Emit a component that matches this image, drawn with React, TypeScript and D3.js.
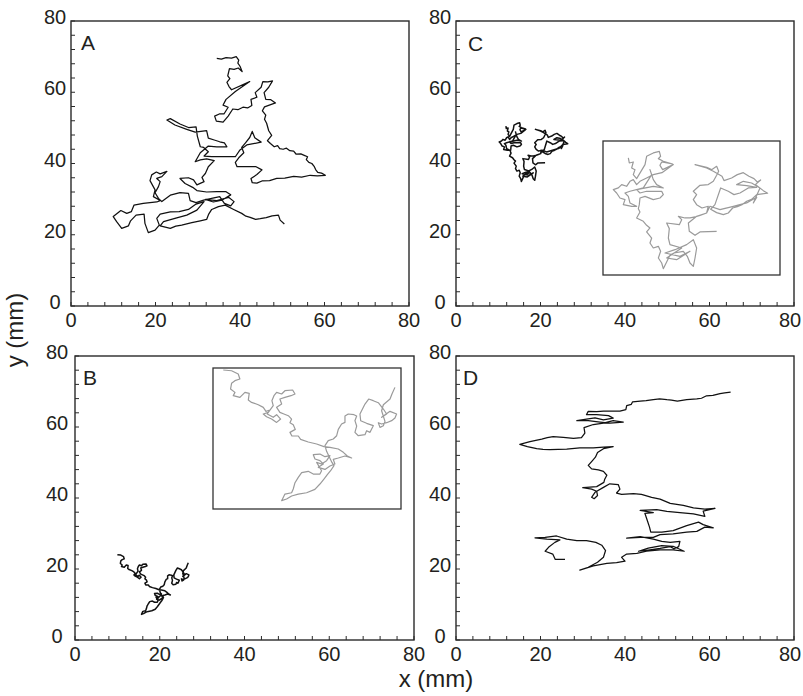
import React from "react";
import * as d3 from "d3";

type Pt = [number, number];

const axisTicks: number[] = [0, 20, 40, 60, 80];
const panelLetters: string[] = ["A", "B", "C", "D"];
const xAxisTitle = "x (mm)";
const yAxisTitle = "y (mm)";

// Panel A trajectory (mm)
const trajA: Pt[] = [
  [34.5, 69.5], [35.6, 69.3], [36.7, 69.7], [38.0, 69.6], [39.1, 70.0], [39.7, 69.0], [39.5, 68.2], [40.0, 67.3], [40.5, 65.8], [39.6, 66.8], [38.6, 66.4], [37.5, 66.6],
  [37.1, 64.6], [37.6, 63.8], [36.9, 62.8], [37.4, 61.6], [38.0, 60.7], [42.3, 63.0], [38.9, 60.2], [36.7, 58.0], [36.0, 56.4], [37.2, 55.8],
  [36.2, 53.9], [35.1, 53.9], [34.0, 53.3], [34.4, 51.9], [36.0, 51.6], [37.2, 53.3], [38.3, 55.3], [39.5, 55.1], [40.7, 55.8], [41.8, 55.6], [42.8, 56.3],
  [42.6, 58.0], [44.0, 58.6], [43.6, 59.9], [45.0, 61.4], [45.4, 63.0], [46.6, 62.9], [47.7, 63.2], [46.8, 61.4], [45.7, 59.9],
  [46.1, 58.0], [47.3, 57.9], [48.4, 57.0], [45.8, 55.9], [45.3, 54.8], [46.1, 53.6], [45.8, 52.4], [46.3, 51.3], [46.8, 49.2], [47.5, 47.9],
  [46.5, 46.4], [47.2, 45.6], [48.1, 44.7], [48.9, 45.0], [49.4, 44.2], [50.2, 44.0], [51.0, 44.3], [51.8, 43.6], [52.7, 43.5], [53.3, 42.6],
  [54.4, 42.7], [55.2, 42.3], [56.0, 41.9], [55.7, 41.1], [56.3, 40.3], [57.0, 40.0], [57.6, 39.1], [57.9, 38.3], [58.4, 37.5], [59.3, 37.3],
  [60.2, 36.7], [58.3, 36.5], [56.6, 36.7], [54.6, 36.2], [52.7, 36.4], [50.6, 35.9], [48.7, 35.8], [47.0, 35.2], [45.2, 35.1], [44.0, 34.5],
  [42.9, 34.6], [42.6, 35.8],
  [44.0, 36.9], [45.2, 38.2], [43.8, 39.1], [41.5, 39.1], [39.3, 39.1], [38.9, 40.3], [39.7, 41.6], [40.9, 43.0],
  [40.4, 44.5], [41.3, 45.8], [42.3, 47.3], [42.9, 49.0], [43.5, 47.2], [45.0, 46.0], [41.6, 45.2], [40.0, 43.8],
  [38.9, 41.9], [36.1, 41.9], [33.3, 41.9], [31.5, 42.1], [32.5, 43.3], [31.4, 44.5], [30.6, 44.7], [29.9, 47.7],
  [29.6, 50.3], [27.8, 50.1], [25.8, 51.1], [23.5, 52.6], [22.7, 52.2], [24.6, 50.8], [27.4, 49.6], [29.4, 48.8],
  [32.1, 49.2], [32.5, 47.1], [33.9, 46.6], [35.2, 46.1], [36.3, 45.8], [36.9, 44.7], [34.5, 44.7], [32.5, 44.9],
  [30.6, 43.0], [29.4, 40.5], [30.6, 41.0], [32.1, 41.3], [33.9, 40.8], [32.5, 39.1], [31.8, 37.2], [31.0, 36.1],
  [31.5, 34.9], [29.8, 34.0], [29.0, 35.4], [27.8, 36.0], [25.8, 35.8], [27.0, 34.4], [28.8, 33.3], [29.8, 32.4],
  [32.1, 32.0], [34.5, 32.1], [36.7, 32.1], [37.8, 31.2], [35.7, 29.7], [33.7, 29.2], [31.8, 29.9], [34.5, 29.6],
  [37.3, 30.5], [38.6, 29.3], [37.8, 28.1], [36.3, 28.8], [35.2, 30.7], [33.3, 30.2], [31.4, 29.7], [29.6, 29.0],
  [28.2, 29.6], [27.8, 31.6], [25.8, 31.8], [23.5, 31.1], [21.5, 29.3], [20.7, 30.2], [19.9, 31.8], [20.7, 33.5],
  [21.1, 34.9], [20.3, 35.8], [21.5, 36.3], [22.7, 37.8], [21.1, 37.1], [20.2, 37.6], [19.1, 36.8], [18.7, 35.2],
  [19.9, 32.6], [19.5, 30.7], [21.1, 29.6], [20.3, 29.2], [18.7, 29.0], [17.1, 28.8], [14.9, 28.3], [14.3, 26.5],
  [13.2, 26.0], [11.8, 26.8], [10.0, 25.1], [10.8, 23.7], [12.0, 21.8], [13.6, 22.5], [14.1, 23.9], [15.4, 25.5],
  [17.3, 25.8], [17.5, 23.2], [18.3, 20.6], [19.9, 21.3], [20.9, 22.7], [20.3, 24.6], [21.1, 25.8], [23.5, 26.4],
  [25.6, 26.5], [27.8, 27.1], [29.6, 28.6], [31.5, 29.3], [29.8, 26.9], [27.4, 25.5], [24.6, 24.6], [21.9, 23.7], [21.1, 22.5],
  [23.5, 21.8], [24.8, 22.4], [26.2, 22.7], [28.6, 23.4], [30.6, 23.9], [32.1, 24.3], [32.6, 25.8], [33.3, 27.1], [34.9, 27.9],
  [36.5, 28.3], [38.5, 27.1], [40.4, 26.0], [41.4, 25.2], [42.4, 24.9], [43.7, 24.3], [44.8, 24.5], [46.2, 24.8], [47.6, 25.3], [49.1, 25.5], [49.5, 24.1],
  [50.5, 23.0],
];

// Panel B trajectory (mm)
const trajB: Pt[] = [
  [10.0, 24.0], [10.81, 23.91], [11.46, 23.49], [11.62, 22.84], [11.14, 22.63], [10.81, 22.29], [10.71, 21.56],
  [11.14, 21.13], [10.97, 20.7], [11.62, 20.49], [12.11, 21.13], [12.53, 21.0], [12.44, 20.14], [12.76, 19.84],
  [13.41, 19.54], [13.9, 19.2], [14.16, 18.69], [14.55, 18.86], [14.29, 18.35], [14.87, 17.92], [15.2, 18.26],
  [15.59, 17.7], [15.2, 17.27], [14.71, 17.7], [14.22, 18.0], [13.9, 18.35], [14.39, 18.56], [14.87, 19.42],
  [14.74, 20.06], [14.94, 20.7], [15.2, 21.13], [15.69, 20.92], [16.01, 21.34], [16.76, 21.43], [16.99, 20.92],
  [16.6, 20.7], [16.01, 20.49], [15.52, 20.27], [15.69, 19.63], [15.2, 19.2], [15.52, 18.56], [15.91, 18.35],
  [16.34, 18.13], [16.66, 17.7], [16.5, 17.23], [16.82, 16.97], [17.02, 16.37], [16.5, 15.99], [16.69, 15.52],
  [17.31, 15.52], [17.54, 15.09], [18.28, 14.75], [19.1, 14.49], [19.81, 14.15], [20.4, 14.06], [21.21, 13.85],
  [21.7, 13.42], [22.09, 12.95], [22.51, 12.69], [21.86, 12.95], [21.21, 12.69], [20.72, 12.52], [20.88, 11.92],
  [20.4, 11.66], [19.91, 11.23], [19.26, 11.49], [19.75, 11.92], [19.42, 12.35], [18.94, 12.56], [18.77, 13.12],
  [19.42, 13.2], [19.91, 12.86], [20.4, 12.99], [20.07, 12.35], [19.58, 11.92], [19.1, 12.13], [19.58, 11.06],
  [19.42, 10.63], [18.77, 10.63], [18.28, 10.98], [17.64, 10.81], [17.31, 10.21], [16.99, 9.52], [16.82, 8.71],
  [16.66, 8.23], [16.01, 8.06], [15.69, 7.21], [16.17, 7.42], [16.66, 7.81], [17.31, 8.06], [18.12, 8.23],
  [18.93, 8.66], [19.42, 9.35], [19.81, 9.99], [20.14, 10.55], [20.46, 11.06], [20.79, 11.71], [20.59, 12.13],
  [20.07, 13.55], [19.91, 14.28], [20.23, 14.92], [20.72, 15.13], [21.05, 15.56], [21.21, 16.37], [21.53, 17.06],
  [21.86, 17.27], [21.86, 18.09], [22.18, 18.35], [22.74, 18.26], [23.0, 18.09], [22.83, 17.49], [23.0, 16.8],
  [22.83, 15.99], [23.16, 15.56], [23.81, 15.69], [23.97, 16.2], [24.3, 15.99], [24.62, 16.85], [23.97, 17.15],
  [23.39, 17.49], [23.32, 18.35], [23.81, 19.63], [24.17, 20.27], [24.62, 20.06], [25.11, 19.8], [25.6, 18.99],
  [25.92, 18.35], [25.43, 17.92], [26.25, 18.69], [26.89, 18.35], [26.73, 17.83], [26.41, 17.49], [25.92, 17.23],
  [25.43, 17.06], [25.11, 17.23], [25.27, 16.63], [25.6, 16.85], [25.76, 17.4], [25.43, 18.77], [25.6, 19.54],
  [26.25, 20.27], [26.44, 20.92], [26.73, 21.77],
];

// Panel C trajectory (mm)
const trajC: Pt[] = [
  [11.81, 50.52], [11.91, 49.81], [12.33, 49.95], [12.16, 49.11], [12.51, 48.87], [12.33, 48.17], [12.68, 47.61],
  [13.56, 49.58], [13.73, 50.75], [14.43, 51.22], [15.06, 51.45], [15.2, 50.75], [14.96, 50.42], [15.48, 50.05],
  [16.46, 49.67], [15.31, 49.95], [15.13, 49.48], [15.41, 48.87], [16.53, 49.58], [15.34, 48.45], [14.43, 48.17],
  [13.73, 47.7], [13.03, 47.23], [12.68, 46.77], [12.33, 47.47], [11.98, 47.23], [11.63, 46.53], [11.11, 46.77],
  [10.76, 46.3], [10.23, 46.06], [10.58, 45.59], [10.93, 44.89], [11.46, 44.66], [11.28, 43.95], [12.16, 43.72],
  [12.68, 43.72], [11.98, 44.19], [11.81, 45.12], [11.46, 45.59], [11.98, 45.83], [13.38, 46.3], [14.26, 48.17],
  [14.08, 48.87], [14.43, 47.47], [14.78, 46.77], [15.48, 46.3], [14.43, 46.53], [12.68, 46.06], [13.03, 45.59],
  [13.73, 45.83], [15.31, 45.83], [15.48, 45.36], [15.13, 44.89], [14.43, 44.66], [13.56, 45.12], [13.03, 44.89],
  [12.96, 43.95], [12.86, 43.39], [13.03, 42.92], [12.68, 42.08], [13.38, 41.61], [13.73, 41.05], [14.08, 40.67],
  [13.73, 40.11], [14.26, 39.26], [14.08, 38.56], [14.43, 37.86], [14.96, 38.09], [15.2, 37.39], [14.96, 36.45],
  [15.31, 35.75], [15.48, 34.95], [15.83, 35.89], [16.18, 36.83], [16.6, 37.15], [17.58, 37.39], [18.0, 36.69],
  [18.28, 35.75], [18.63, 35.28], [18.81, 36.45], [18.98, 37.86], [18.63, 39.03], [17.93, 38.33], [16.71, 37.62],
  [15.66, 37.15], [17.23, 36.69], [18.28, 37.39], [16.88, 36.22], [15.83, 36.45], [17.41, 37.86], [16.18, 38.33],
  [16.01, 39.26], [16.11, 40.58], [15.83, 41.37], [17.16, 41.14], [17.41, 41.84], [17.06, 42.31], [17.76, 42.08],
  [18.28, 42.08], [18.81, 42.22], [19.33, 42.45], [20.03, 42.78], [20.2, 43.72], [19.54, 43.48], [18.98, 43.95],
  [18.63, 44.66], [18.98, 45.36], [18.63, 45.83], [19.33, 46.67], [20.2, 46.77], [20.73, 47.23], [21.08, 48.08],
  [21.29, 48.64], [21.08, 49.34], [20.55, 48.87], [20.03, 49.2], [18.81, 49.58], [20.03, 49.11], [20.73, 48.64],
  [21.64, 47.94], [21.85, 47.33], [22.65, 47.7], [23.25, 48.17], [23.88, 48.45], [24.47, 47.94], [25.0, 47.61],
  [25.35, 47.14], [25.7, 47.42], [25.14, 46.77], [25.98, 45.92], [26.43, 45.55], [25.28, 45.36], [24.75, 44.7],
  [24.23, 44.42], [23.74, 43.95], [23.25, 43.67], [22.76, 43.48], [22.3, 42.78], [21.78, 42.55], [21.08, 42.83],
  [20.45, 43.3], [20.9, 43.95], [21.5, 46.3], [22.3, 45.83], [22.9, 45.36], [23.53, 45.59], [24.4, 46.3],
  [25.28, 46.39], [24.23, 46.62], [23.18, 46.77], [23.88, 47.23], [24.75, 47.0], [25.63, 46.3], [24.93, 44.19],
  [25.28, 44.98], [24.23, 44.19], [22.83, 43.72], [21.43, 43.25], [20.38, 43.72], [20.03, 42.78], [18.98, 42.31],
  [18.11, 41.37], [18.21, 40.2], [18.81, 39.64], [19.33, 40.11], [21.08, 40.2],
];

// Panel D trajectory (mm)
const trajD: Pt[] = [
  [65.0, 69.8], [63.6, 69.6], [62.5, 69.4], [60.8, 68.9], [59.3, 68.8], [58.1, 68.1], [57.0, 67.9], [54.6, 67.7], [52.4, 67.3], [51.0, 67.6], [49.9, 67.7], [48.2, 67.9], [46.7, 67.7],
  [45.0, 67.4], [43.6, 67.3], [41.8, 67.1], [41.5, 66.4], [40.4, 66.0], [40.2, 64.9], [38.8, 64.5], [36.8, 64.5], [34.9, 64.5],
  [33.3, 64.3], [31.3, 64.4], [30.9, 63.5], [33.3, 63.5], [36.1, 63.2], [37.2, 62.5], [34.9, 62.0], [32.9, 62.6],
  [30.9, 62.2], [28.6, 61.8], [31.3, 61.8], [34.1, 61.4], [36.4, 61.1], [39.6, 61.4], [37.2, 61.8], [34.9, 61.1],
  [32.5, 60.7], [30.3, 59.8], [30.5, 58.3], [29.7, 57.0], [27.8, 56.8], [25.4, 57.1], [23.0, 57.3], [21.6, 57.0], [20.3, 56.6],
  [17.5, 55.9], [15.1, 55.1], [16.9, 54.5], [19.1, 53.9], [20.6, 53.7], [22.2, 53.6], [26.2, 53.8], [29.3, 54.1], [32.5, 54.1],
  [34.9, 54.3], [37.2, 54.5], [34.9, 53.9], [33.5, 52.8], [33.0, 51.5], [32.2, 50.4], [31.3, 49.2], [32.1, 48.2],
  [33.7, 47.9], [34.9, 47.5], [35.7, 46.4], [35.2, 45.3], [35.0, 44.4], [33.3, 43.2], [30.9, 43.0], [30.0, 42.9],
  [32.1, 42.5], [33.3, 41.9], [33.5, 40.7], [32.7, 39.8], [32.1, 40.2], [32.9, 41.6], [34.9, 43.0], [36.4, 44.0],
  [38.4, 43.8], [38.8, 42.5], [38.0, 41.4], [39.2, 41.0], [42.0, 41.2], [43.9, 41.0], [46.3, 40.2], [48.3, 39.7],
  [50.7, 38.5], [53.8, 37.9], [56.2, 37.2], [58.9, 36.9], [61.3, 37.1], [58.5, 36.3], [58.9, 34.8], [56.2, 35.5],
  [53.0, 35.9], [49.9, 36.2], [47.5, 36.7], [43.6, 36.5], [46.7, 35.9], [44.7, 35.7], [45.3, 33.6], [45.8, 31.8],
  [46.1, 30.4], [48.7, 30.4], [51.4, 30.8], [54.6, 32.2], [57.4, 33.2], [58.5, 32.5], [60.9, 31.6], [58.9, 31.8],
  [57.0, 30.6], [54.6, 30.4], [51.4, 29.9], [48.3, 29.7], [46.7, 28.9], [43.6, 28.9], [40.4, 28.7], [43.6, 29.1],
  [46.7, 28.4], [48.7, 27.8], [50.7, 27.5], [53.0, 27.8], [52.7, 26.3], [51.6, 25.7], [50.7, 26.3], [48.3, 25.8],
  [45.9, 25.4], [43.2, 25.0], [45.5, 25.9], [48.7, 26.6], [51.4, 26.4], [54.0, 25.0], [51.4, 25.4], [48.3, 25.4],
  [45.1, 25.0], [42.8, 24.4], [40.4, 24.2], [39.2, 23.3], [40.0, 22.2], [38.0, 21.8], [35.7, 21.6], [32.5, 20.9],
  [29.3, 19.7], [31.3, 20.5], [33.5, 21.9], [34.9, 23.3], [35.4, 25.2], [34.5, 26.7], [33.1, 27.5], [30.9, 28.0],
  [28.6, 28.0], [26.2, 28.4], [23.8, 29.3], [21.1, 28.9], [18.7, 28.8], [21.5, 28.4], [24.6, 28.2], [23.4, 27.5],
  [21.9, 26.1], [21.1, 25.0], [22.9, 24.2], [23.5, 22.7], [25.8, 22.7],
];

interface Inset {
  left: number; right: number; top: number; bottom: number;
  xDomain: [number, number]; yDomain: [number, number];
}
interface Panel {
  letter: string; data: Pt[]; lineWidth: number;
  left: number; right: number; top: number; bottom: number;
  letterX: number; letterY: number; yLabelX: number;
  inset?: Inset;
}

const panels: Panel[] = [
  { letter: panelLetters[0], data: trajA, lineWidth: 1.25, left: 71, right: 409, top: 21, bottom: 306, letterX: 81, letterY: 50, yLabelX: 55 },
  { letter: panelLetters[1], data: trajB, lineWidth: 1.5, left: 75, right: 414, top: 356, bottom: 640, letterX: 83, letterY: 385, yLabelX: 57,
    inset: { left: 213, right: 401, top: 368, bottom: 509, xDomain: [9.0, 27.32], yDomain: [6.14, 24.26] } },
  { letter: panelLetters[2], data: trajC, lineWidth: 1.5, left: 456, right: 794, top: 21, bottom: 306, letterX: 468, letterY: 50.5, yLabelX: 440,
    inset: { left: 603, right: 780, top: 141, bottom: 275, xDomain: [9.15, 27.73], yDomain: [34.06, 52.9] } },
  { letter: panelLetters[3], data: trajD, lineWidth: 1.25, left: 456, right: 794, top: 356, bottom: 640, letterX: 463, letterY: 385, yLabelX: 440 },
];

const FONT = "'Liberation Sans', Arial, Helvetica, sans-serif";
const INK = "#231f20";
const PAGE_W = 803;

function PanelView({ p }: { p: Panel }) {
  const x = d3.scaleLinear().domain([0, 80]).range([p.left, p.right]);
  const y = d3.scaleLinear().domain([0, 80]).range([p.bottom, p.top]);
  const line = d3.line<Pt>().x((d) => x(d[0])).y((d) => y(d[1]));
  const minor = d3.range(0, 81, 4);
  let insetEl = null;
  if (p.inset) {
    const ins = p.inset;
    const xi = d3.scaleLinear().domain(ins.xDomain).range([ins.left, ins.right]);
    const yi = d3.scaleLinear().domain(ins.yDomain).range([ins.bottom, ins.top]);
    const li = d3.line<Pt>().x((d) => xi(d[0])).y((d) => yi(d[1]));
    insetEl = (
      <g>
        <rect x={ins.left} y={ins.top} width={ins.right - ins.left} height={ins.bottom - ins.top}
          fill="white" stroke="#333" strokeWidth={1.3} />
        <path d={li(p.data) || ""} fill="none" stroke="#9a9a9a" strokeWidth={1.2} strokeLinejoin="round" />
      </g>
    );
  }
  return (
    <g>
      <rect x={p.left} y={p.top} width={p.right - p.left} height={p.bottom - p.top}
        fill="none" stroke="#2a2a2a" strokeWidth={1.4} />
      {minor.map((t) => (
        <line key={"bx" + t} x1={x(t)} x2={x(t)} y1={p.bottom} y2={p.bottom - 4} stroke="#2a2a2a" strokeWidth={1} />
      ))}
      {minor.map((t) => (
        <line key={"ly" + t} x1={p.left} x2={p.left + 4} y1={y(t)} y2={y(t)} stroke="#2a2a2a" strokeWidth={1} />
      ))}
      {axisTicks.map((t) => (
        <text key={"xl" + t} x={Math.min(x(t), PAGE_W - 13)} y={p.bottom + 21} textAnchor="middle" fontSize={20} fontFamily={FONT} fill={INK}>{t}</text>
      ))}
      {axisTicks.map((t) => (
        <text key={"yl" + t} x={p.yLabelX} y={y(t) + 3} textAnchor="middle" fontSize={20} fontFamily={FONT} fill={INK}>{t}</text>
      ))}
      <path d={line(p.data) || ""} fill="none" stroke="#111" strokeWidth={p.lineWidth} strokeLinejoin="round" />
      {insetEl}
      <text x={p.letterX} y={p.letterY} fontSize={21} fontFamily={FONT} fill={INK}>{p.letter}</text>
    </g>
  );
}

export default function App() {
  return (
    <svg width={803} height={696} style={{ position: "absolute", left: 0, top: 0, background: "white" }}>
      <rect x={0} y={0} width={803} height={696} fill="white" />
      {panels.map((p) => <PanelView key={p.letter} p={p} />)}
      <text x={436} y={687} textAnchor="middle" fontSize={24} fontFamily={FONT} fill={INK}>{xAxisTitle}</text>
      <text transform="translate(23,330) rotate(-90)" textAnchor="middle" fontSize={24} fontFamily={FONT} fill={INK}>{yAxisTitle}</text>
    </svg>
  );
}
